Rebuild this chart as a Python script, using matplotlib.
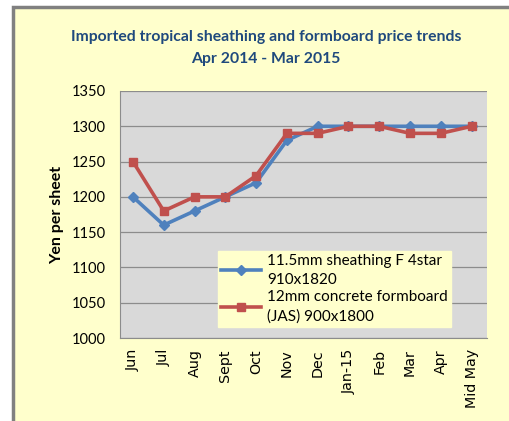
import numpy as np
import matplotlib.pyplot as plt
from matplotlib.patches import Rectangle

months = ['Jun', 'Jul', 'Aug', 'Sept', 'Oct', 'Nov', 'Dec', 'Jan-15',
          'Feb', 'Mar', 'Apr', 'Mid May']
sheathing = [1200, 1160, 1180, 1200, 1220, 1280, 1300, 1300, 1300, 1300, 1300, 1300]
formboard = [1250, 1180, 1200, 1200, 1230, 1290, 1290, 1300, 1300, 1290, 1290, 1300]
yticks = [1000, 1050, 1100, 1150, 1200, 1250, 1300, 1350]

plt.rcParams['font.family'] = ['Lato', 'DejaVu Sans']

fig = plt.figure(figsize=(5.1, 4.21), dpi=100)
fig.patch.set_facecolor('white')
bg = Rectangle((13 / 510, -0.05), 1.1, 1 - 7 / 421 + 0.05,
               transform=fig.transFigure, facecolor='#FFFFCC',
               edgecolor='#808080', linewidth=2.5, zorder=-5)
fig.add_artist(bg)

ax = fig.add_axes([120 / 510, 1 - 338 / 421, 367 / 510, 247 / 421])
ax.set_zorder(2)
ax.set_facecolor('#D9D9D9')
x = np.arange(len(months))

ax.plot(x, sheathing, color='#4F81BD', lw=2.6, marker='D', ms=5.5,
        label='11.5mm sheathing F 4star\n910x1820', zorder=3)
ax.plot(x, formboard, color='#C0504D', lw=2.6, marker='s', ms=5.5,
        label='12mm concrete formboard\n(JAS) 900x1800', zorder=4)

ax.set_xlim(-0.42, 11.5)
ax.set_ylim(1000, 1350)
ax.set_yticks(yticks)
ax.set_xticks(x)
ax.set_xticklabels(months, rotation=90, fontsize=10.3, family='DejaVu Sans')
ax.tick_params(axis='y', labelsize=10.5, length=0, pad=10)
ax.tick_params(axis='x', length=0, pad=8)
ax.yaxis.grid(True, color='#8C8C8C', lw=0.9)
ax.set_axisbelow(True)
for s in ['top', 'right']:
    ax.spines[s].set_visible(False)
for s in ['left', 'bottom']:
    ax.spines[s].set_color('#8C8C8C')

ax.set_ylabel('Yen per sheet', fontsize=11.5, fontweight='bold', labelpad=6)

leg = ax.legend(loc='lower left', bbox_to_anchor=(98 / 367, 11 / 247),
                frameon=True, fontsize=11, handlelength=2.6,
                borderaxespad=0, labelspacing=0.25, handletextpad=0.4,
                borderpad=0.2)
for t in leg.get_texts():
    t.set_linespacing(1.45)
leg.get_frame().set_facecolor('#FFFFCC')
leg.get_frame().set_edgecolor('#FFFFCC')
leg.get_frame().set_alpha(1)
leg.get_frame().set_boxstyle('square', pad=0)

fig.text(0.522, 1 - 37 / 421, 'Imported tropical sheathing and formboard price trends',
         ha='center', va='center', fontsize=11.3, fontweight='bold', color='#1F497D')
fig.text(0.522, 1 - 59 / 421, 'Apr 2014 - Mar 2015',
         ha='center', va='center', fontsize=11.3, fontweight='bold', color='#1F497D')

fig.savefig('out.png', dpi=100)
